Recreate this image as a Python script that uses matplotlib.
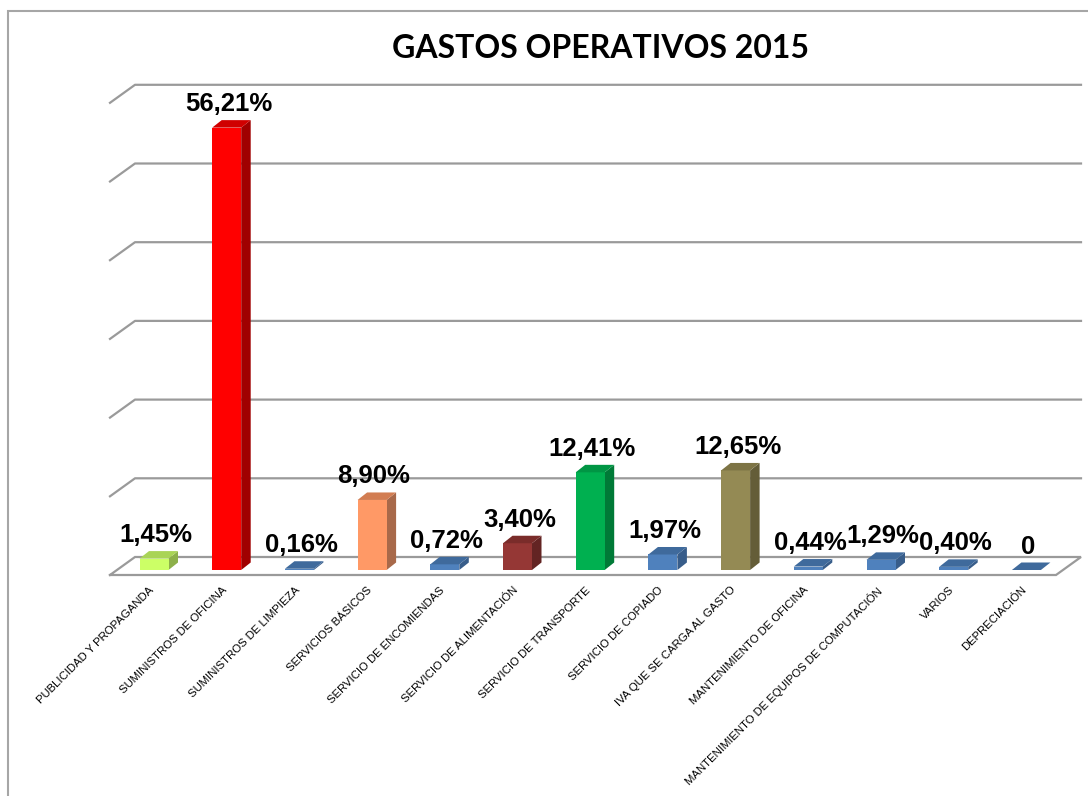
import matplotlib
matplotlib.use("Agg")
import matplotlib.pyplot as plt
from matplotlib.patches import Rectangle

# ---- data ----
categories = [
    "PUBLICIDAD Y PROPAGANDA", "SUMINISTROS DE OFICINA", "SUMINISTROS DE LIMPIEZA",
    "SERVICIOS BÁSICOS", "SERVICIO DE ENCOMIENDAS", "SERVICIO DE ALIMENTACIÓN",
    "SERVICIO DE TRANSPORTE", "SERVICIO DE COPIADO", "IVA QUE SE CARGA AL GASTO",
    "MANTENIMIENTO DE OFICINA", "MANTENIMIENTO DE EQUIPOS DE COMPUTACIÓN",
    "VARIOS", "DEPRECIACIÓN",
]
values = [1.45, 56.21, 0.16, 8.90, 0.72, 3.40, 12.41, 1.97, 12.65, 0.44, 1.29, 0.40, 0.0]
value_labels = ["1,45%", "56,21%", "0,16%", "8,90%", "0,72%", "3,40%", "12,41%",
                "1,97%", "12,65%", "0,44%", "1,29%", "0,40%", "0"]
grid_values = [0, 10, 20, 30, 40, 50, 60]
title = "GASTOS OPERATIVOS 2015"

# colours: (front, top, side)
LIME = ("#CCFF66", "#A9D456", "#8DB04A")
RED = ("#FF0000", "#D00000", "#A00000")
BLUE = ("#4F81BD", "#3F6A9C", "#385D8A")
ORANGE = ("#FF9966", "#D27D52", "#A8694A")
DRED = ("#953735", "#7A2C2A", "#632423")
GREEN = ("#00B050", "#009644", "#007A37")
OLIVE = ("#948A54", "#7D7445", "#645D38")
bar_colors = [LIME, RED, BLUE, ORANGE, BLUE, DRED, GREEN, BLUE, OLIVE, BLUE, BLUE, BLUE, BLUE]

# ---- figure ----
W, H = 1088, 796
fig = plt.figure(figsize=(W / 100, H / 100), dpi=100)
ax = fig.add_axes([0, 0, 1, 1])
ax.set_axis_off()

# pixel geometry -> data units
xstep = 72.7      # px per category
x0px = 154.0      # px of first category centre
ypx = 7.87        # px per value unit
y0px = 570.0      # px (from top) of value 0 at bar front
ax.set_xlim(-x0px / xstep, (W - x0px) / xstep)
ax.set_ylim(-(H - y0px) / ypx, y0px / ypx)

def px_x(d):
    return d / xstep

def px_y(d):
    return d / ypx

half_w = px_x(14.5)
bdx, bdy = px_x(9.5), px_y(7.5)     # bar depth offsets
wdx, wdy = px_x(25), px_y(18)       # wall depth offsets
floor_front = px_y(-5)
left_front = px_x(110 - x0px)
right_front = px_x(1056 - x0px)

gcol = "#9a9a9a"
glw = 1.6

# floor
fx = [left_front, right_front, right_front + wdx, left_front + wdx, left_front]
fy = [floor_front, floor_front, floor_front + wdy, floor_front + wdy, floor_front]
ax.fill(fx, fy, color="white", zorder=1)
ax.plot(fx, fy, color=gcol, lw=glw, zorder=2, solid_joinstyle="miter")

# gridlines (back wall + left side wall)
for g in grid_values[1:]:
    yf = floor_front + g
    ax.plot([left_front, left_front + wdx, px_x(1081 - x0px)],
            [yf, yf + wdy, yf + wdy], color=gcol, lw=glw, zorder=2)

# bars
for i, (v, (cf, ct, cs)) in enumerate(zip(values, bar_colors)):
    xl, xr = i - half_w, i + half_w
    # side
    ax.fill([xr, xr + bdx, xr + bdx, xr], [0, bdy, v + bdy, v], color=cs, zorder=3, lw=0)
    # front
    if v > 0:
        ax.fill([xl, xr, xr, xl], [0, 0, v, v], color=cf, zorder=4, lw=0)
    # top
    ax.fill([xl, xr, xr + bdx, xl + bdx], [v, v, v + bdy, v + bdy], color=ct, zorder=4, lw=0)
    # value label
    ax.text(i + bdx * 0.2, v + bdy + px_y(9), value_labels[i], ha="center", va="baseline",
            fontsize=18.5, fontweight="bold", family="Liberation Sans", color="black", zorder=6)

# category labels
for i, c in enumerate(categories):
    ax.text(i - px_x(5), px_y(-15), c, rotation=45, rotation_mode="anchor",
            ha="right", va="top", fontsize=8.2,
            family=["Liberation Sans Narrow", "Liberation Sans"], color="black")

# title
fig.text(601 / W, 1 - 58 / H, title, ha="center", va="baseline",
         fontsize=23, fontweight="bold", family="Lato", color="black")

# chart border
fig.patches.append(Rectangle((8 / W, -0.05), 1.2, 1 - 11 / H + 0.05, transform=fig.transFigure,
                             fill=False, edgecolor="#a6a6a6", lw=1.5))

fig.savefig("out.png", dpi=100)
